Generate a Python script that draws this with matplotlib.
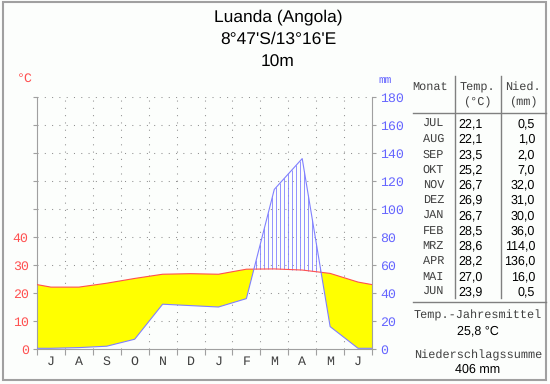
import numpy as np
import matplotlib
matplotlib.use('Agg')
import matplotlib.pyplot as plt
from matplotlib.patches import Rectangle

# climate data, Luanda (Jul - Jun)
months_axis = ['J', 'A', 'S', 'O', 'N', 'D', 'J', 'F', 'M', 'A', 'M', 'J']
months_table = ['JUL', 'AUG', 'SEP', 'OKT', 'NOV', 'DEZ', 'JAN', 'FEB', 'MRZ', 'APR', 'MAI', 'JUN']
temp = [22.1, 22.1, 23.5, 25.2, 26.7, 26.9, 26.7, 28.5, 28.6, 28.2, 27.0, 23.9]
prec = [0.5, 1.0, 2.0, 7.0, 32.0, 31.0, 30.0, 36.0, 114.0, 136.0, 16.0, 0.5]
temp_labels = ['22,1', '22,1', '23,5', '25,2', '26,7', '26,9', '26,7', '28,5', '28,6', '28,2', '27,0', '23,9']
prec_labels = ['0,5', '1,0', '2,0', '7,0', '32,0', '31,0', '30,0', '36,0', '114,0', '136,0', '16,0', '0,5']
title_lines = ['Luanda (Angola)', "8°47'S/13°16'E", '10m']
mean_temp_label = '25,8 °C'
sum_prec_label = '406 mm'

W, H = 550, 384
MONO = 'Liberation Mono'
SANS = 'Liberation Sans'
RED = '#ff5050'
BLUE = '#6464ff'
LBLUE = '#8080ff'
GRID = '#909090'
plt.rcParams['text.hinting'] = 'no_hinting'

def fx(x):
    return x / W

def fy(y):
    return 1 - y / H

fig = plt.figure(figsize=(W / 100, H / 100), dpi=100, facecolor='#fcfefc')

# outer frame
fig.add_artist(Rectangle((fx(3), fy(380)), fx(543), (380 - 2) / H, transform=fig.transFigure,
                         fill=False, edgecolor='#a0a0a0', lw=1.5))

# diagram area
ax = fig.add_axes([fx(37), fy(349), fx(335), 252 / H])
ax.set_facecolor('none')
ax.set_xlim(0, 12)
ax.set_ylim(0, 90)

# values at month centres, closed at the edges with the Jun/Jul mean
x = np.concatenate([[0], np.arange(12) + 0.5, [12]])
t = np.array(temp)
p = np.array(prec) / 2.0   # 10 °C = 20 mm
t_ext = np.concatenate([[(t[0] + t[-1]) / 2], t, [(t[0] + t[-1]) / 2]])
p_ext = np.concatenate([[(p[0] + p[-1]) / 2], p, [(p[0] + p[-1]) / 2]])

# arid period: yellow
ax.fill_between(x, p_ext, t_ext, where=t_ext >= p_ext, interpolate=True,
                color='#ffff00', lw=0, zorder=2)
# humid period: vertical hatching
xs = np.arange(0, 12, 1 / 7)
ti = np.interp(xs, x, t_ext)
pi = np.interp(xs, x, p_ext)
wet = pi > ti
ax.vlines(xs[wet], ti[wet], pi[wet], color=LBLUE, lw=0.6, zorder=2)

ax.plot(x, t_ext, color=RED, lw=0.8, zorder=3)
ax.plot(x, p_ext, color=LBLUE, lw=0.8, zorder=3)

# grid
for v in range(10, 100, 10):
    ax.axhline(v, color=GRID, lw=0.75, ls=(0, (1, 6)), zorder=1)
for m in range(1, 12):
    ax.axvline(m, color=GRID, lw=0.75, ls=(0, (1, 6)), zorder=1)

for side in ['left', 'right', 'bottom']:
    ax.spines[side].set_color('#a0a0a0')
ax.spines['top'].set_visible(False)

ax.set_yticks(range(0, 100, 10))
ax.set_yticklabels([str(v) if v <= 40 else '' for v in range(0, 100, 10)],
                   fontfamily=MONO, fontsize=9.5, color=RED)
ax.tick_params(axis='y', length=3, color='#a0a0a0', pad=3)

ax.set_xticks(range(13))
ax.set_xticklabels([])
ax.set_xticks(np.arange(12) + 0.5, minor=True)
ax.set_xticklabels(months_axis, minor=True, fontfamily=MONO, fontsize=9.5, color='#404040')
ax.tick_params(axis='x', which='major', length=4, color='#a0a0a0')
ax.tick_params(axis='x', which='minor', length=0, pad=5)

ax2 = ax.twinx()
ax2.set_ylim(0, 180)
ax2.set_yticks(range(0, 200, 20))
ax2.set_yticklabels([str(v) for v in range(0, 200, 20)], fontfamily=MONO, fontsize=9.5, color=BLUE)
ax2.tick_params(axis='y', length=3, color='#a0a0a0', pad=3)
for s in ax2.spines.values():
    s.set_visible(False)

fig.text(fx(25), fy(79), '°C', color=RED, fontfamily=MONO, fontsize=9.5, ha='center', va='center')
fig.text(fx(385), fy(80), 'mm', color=BLUE, fontfamily=MONO, fontsize=8, ha='center', va='center')

# title
for i, line in enumerate(title_lines):
    fig.text(fx(278), fy(17 + 22.5 * i), line, fontfamily=SANS, fontsize=12.5,
             ha='center', va='center', color='black')

# table
tkw = dict(fontfamily=MONO, fontsize=8.6, color='#404040', va='center')
fig.text(fx(430), fy(87), 'Monat', ha='center', **tkw)
fig.text(fx(477), fy(87), 'Temp.', ha='center', **tkw)
fig.text(fx(477), fy(102), '(°C)', ha='center', **tkw)
fig.text(fx(523), fy(87), 'Nied.', ha='center', **tkw)
fig.text(fx(523), fy(102), '(mm)', ha='center', **tkw)

line_kw = dict(transform=fig.transFigure, color='#808080', lw=1)
fig.add_artist(plt.Line2D([fx(413), fx(546)], [fy(113), fy(113)], **line_kw))
fig.add_artist(plt.Line2D([fx(413), fx(546)], [fy(302), fy(302)], **line_kw))
fig.add_artist(plt.Line2D([fx(455), fx(455)], [fy(76), fy(298)], **line_kw))
fig.add_artist(plt.Line2D([fx(501), fx(501)], [fy(76), fy(298)], **line_kw))

vkw = dict(fontfamily=SANS, fontsize=9, color='black', va='center')
for i in range(12):
    y = fy(124 + 15.25 * i)
    fig.text(fx(444), y, months_table[i], ha='right', **tkw)
    fig.text(fx(483), y, temp_labels[i], ha='right', **vkw)
    fig.text(fx(535), y, prec_labels[i], ha='right', **vkw)

fig.text(fx(478), fy(315), 'Temp.-Jahresmittel', ha='center', **tkw)
fig.text(fx(478), fy(331), mean_temp_label, ha='center', **vkw)
fig.text(fx(478), fy(355), 'Niederschlagssumme', ha='center', **tkw)
fig.text(fx(478), fy(370), sum_prec_label, ha='center', **vkw)

fig.savefig('out.png', dpi=100, facecolor=fig.get_facecolor())
